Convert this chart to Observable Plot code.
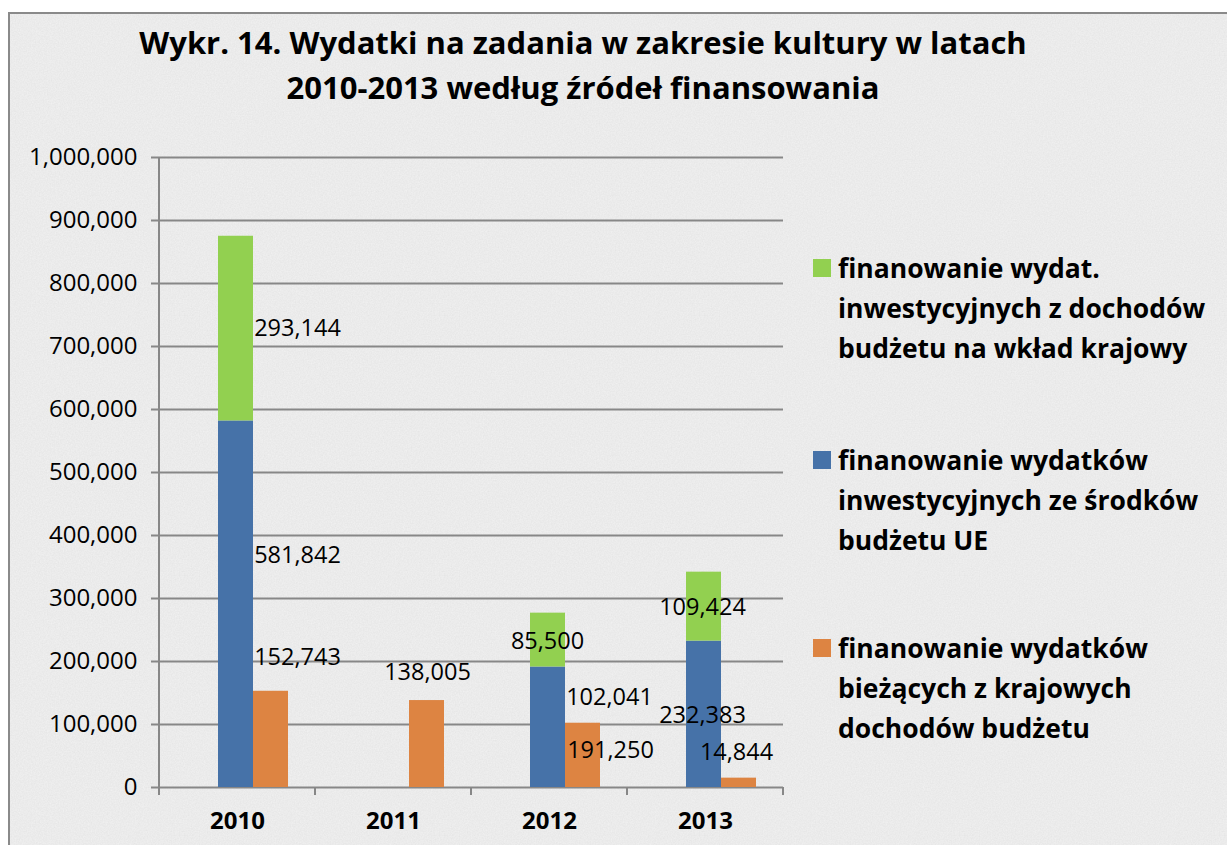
<!DOCTYPE html>
<html>
<head>
<meta charset="utf-8">
<script src="https://cdn.jsdelivr.net/npm/d3@7"></script>
<script src="https://cdn.jsdelivr.net/npm/@observablehq/plot@0.6"></script>
<style>
  body { margin: 0; background: #ffffff; }
  #wrap { position: relative; width: 1227px; height: 845px; overflow: hidden; font-family: "Open Sans", sans-serif; color: #000; }
  #frame {
    position: absolute; left: 8px; top: 12px; width: 1250px; height: 870px;
    border: 2px solid #8a8a8a;
    background-color: #f2f2f2;
    background-image: url("data:image/svg+xml;utf8,<svg xmlns='http://www.w3.org/2000/svg' width='260' height='260'><filter id='n'><feTurbulence type='fractalNoise' baseFrequency='0.75' numOctaves='3' stitchTiles='stitch'/><feColorMatrix values='0 0 0 0 0.55 0 0 0 0 0.55 0 0 0 0 0.55 0 0 0 0.3 0'/></filter><rect width='100%25' height='100%25' filter='url(%23n)'/></svg>");
  }
  #title { position: absolute; left: 0; width: 1166px; top: 20px; text-align: center; font-weight: bold; font-size: 31px; line-height: 45px; }
  #chart { position: absolute; left: 0; top: 0; }
  .leg { position: absolute; left: 838px; font-weight: bold; font-size: 26.5px; line-height: 40px; white-space: nowrap; }
  .sw { position: absolute; left: -25px; top: 11px; width: 18px; height: 18px; }
</style>
</head>
<body>
<div id="wrap">
  <div id="frame"></div>
  <div id="title">Wykr. 14. Wydatki na zadania w zakresie kultury w latach<br>2010-2013 według źródeł finansowania</div>
  <div id="chart"></div>
  <div id="legend"></div>
</div>
<script>
// ---- data ----
const years = ["2010", "2011", "2012", "2013"];
const euFunds = [581842, 0, 191250, 232383];          // blue: finanowanie wydatków inwestycyjnych ze środków budżetu UE
const domesticContrib = [293144, 0, 85500, 109424];   // green: finanowanie wydat. inwestycyjnych z dochodów budżetu na wkład krajowy
const currentExp = [152743, 138005, 102041, 14844];   // orange: finanowanie wydatków bieżących z krajowych dochodów budżetu
const yTicks = [0, 100000, 200000, 300000, 400000, 500000, 600000, 700000, 800000, 900000, 1000000];

const seriesNames = {
  dom: "finanowanie wydat. inwestycyjnych z dochodów budżetu na wkład krajowy",
  eu: "finanowanie wydatków inwestycyjnych ze środków budżetu UE",
  cur: "finanowanie wydatków bieżących z krajowych dochodów budżetu"
};
const legendLines = {
  dom: ["finanowanie wydat.", "inwestycyjnych z dochodów", "budżetu na wkład krajowy"],
  eu: ["finanowanie wydatków", "inwestycyjnych ze środków", "budżetu UE"],
  cur: ["finanowanie wydatków", "bieżących z krajowych", "dochodów budżetu"]
};
const colors = { dom: "#92d050", eu: "#4672a8", cur: "#dd8442" };

// ---- tables ----
const stacked = years.flatMap((y, i) => [
  { year: y, series: "eu", value: euFunds[i] },
  { year: y, series: "dom", value: domesticContrib[i] }
]).filter(d => d.value > 0);
const current = years.map((y, i) => ({ year: y, series: "cur", value: currentExp[i] }));

// label anchor values (derived from data)
const labels = [];
years.forEach((y, i) => {
  if (euFunds[i] > 0) labels.push({ key: "eu-" + y, year: y, y: euFunds[i] / 2, text: euFunds[i] });
  if (domesticContrib[i] > 0) labels.push({ key: "dom-" + y, year: y, y: euFunds[i] + domesticContrib[i] / 2, text: domesticContrib[i] });
  labels.push({ key: "cur-" + y, year: y, y: currentExp[i], text: currentExp[i] });
});
// per-label pixel offsets (styling, mimicking the manual placement of the original)
const labelOffsets = {
  "dom-2010": [60, 0], "eu-2010": [60, -49], "cur-2010": [60, -34],
  "cur-2011": [34, -28],
  "dom-2012": [-2, 1], "eu-2012": [61, 23], "cur-2012": [60, -26],
  "dom-2013": [-3, 1], "eu-2013": [-3, 1], "cur-2013": [31, -26]
};
const fmt = d3.format(",");
const gridColor = "#878787";

const labelMarks = labels.map(l => {
  const [dx, dy] = labelOffsets[l.key] || [0, 0];
  return Plot.text([l], { x: "year", y: "y", text: d => fmt(d.text), dx, dy, fontSize: 23.5, fill: "#000" });
});

// axis decorations: vertical y-axis line and category boundary ticks
const axisDecor = (index, scales, values, dims) => {
  const g = d3.create("svg:g").attr("stroke", gridColor).attr("stroke-width", 2);
  const x0 = dims.marginLeft, x1 = dims.width - dims.marginRight;
  const yb = scales.y(0), yt = scales.y(1000000);
  g.append("line").attr("x1", x0).attr("x2", x0).attr("y1", yt).attr("y2", yb + 8);
  const xs = years.map(y => scales.x(y)).concat([x1]);
  xs.forEach(x => g.append("line").attr("x1", x).attr("x2", x).attr("y1", yb).attr("y2", yb + 8));
  return g.node();
};

const chart = Plot.plot({
  width: 790,
  height: 845,
  marginLeft: 159,
  marginRight: 7,
  marginTop: 157,
  marginBottom: 58,
  style: { background: "transparent", fontFamily: "Open Sans, sans-serif", fontSize: "22px", color: "#000", overflow: "visible" },
  x: { domain: years, padding: 0, label: null },
  y: { domain: [0, 1000000], label: null },
  color: { domain: ["dom", "eu", "cur"], range: [colors.dom, colors.eu, colors.cur] },
  marks: [
    Plot.gridY(yTicks, { stroke: gridColor, strokeOpacity: 1, strokeWidth: 2, x1: null }),
    Plot.axisY(yTicks, { tickFormat: fmt, tickSize: 8, tickPadding: 14, stroke: gridColor, strokeWidth: 2, fontSize: 24, fill: "#000" }),
    Plot.axisX({ tickSize: 0, tickPadding: 24, fontSize: 24, fontWeight: "bold", fill: "#000" }),
    Plot.barY(stacked, { x: "year", y: "value", fill: "series", insetLeft: 59, insetRight: 62, title: d => seriesNames[d.series] }),
    Plot.barY(current, { x: "year", y: "value", fill: "series", insetLeft: 94, insetRight: 27, title: d => seriesNames[d.series] }),
    axisDecor,
    ...labelMarks
  ]
});
document.getElementById("chart").appendChild(chart);

// ---- legend ----
const legendTops = { dom: 248, eu: 440, cur: 628 };
const legend = document.getElementById("legend");
["dom", "eu", "cur"].forEach(k => {
  const div = document.createElement("div");
  div.className = "leg";
  div.style.top = legendTops[k] + "px";
  const sw = document.createElement("div");
  sw.className = "sw";
  sw.style.background = colors[k];
  div.appendChild(sw);
  legendLines[k].forEach(t => {
    const line = document.createElement("div");
    line.textContent = t;
    div.appendChild(line);
  });
  legend.appendChild(div);
});
</script>
</body>
</html>
